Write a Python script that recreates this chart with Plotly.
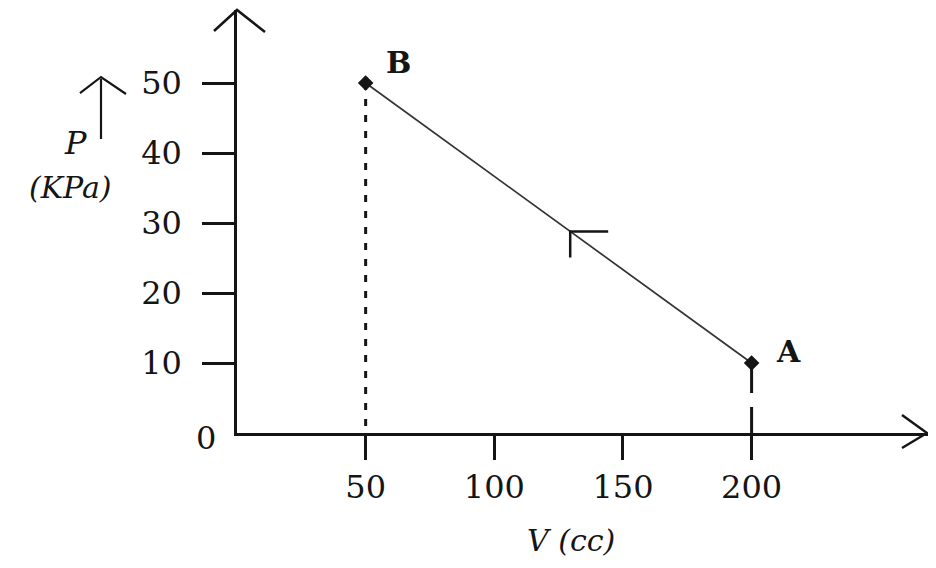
import plotly.graph_objects as go

# -------------------------------
# Datos del proceso A -> B
# -------------------------------
estados = ["B", "A"]
volumen = [50, 200]   # cc
presion = [50, 10]    # kPa

x_ticks = [50, 100, 150, 200]
y_ticks = [10, 20, 30, 40, 50]

# -------------------------------
# Lienzo y escala (la pagina deja 8 px de margen)
# -------------------------------
OFF = 8
W, H = 936 - OFF, 568 - OFF
ML, MR, MT, MB = 237 - OFF, 1, 10 - OFF, 135
PX_X = 2.573   # px por cc
PX_Y = 7.0     # px por kPa
PW, PH = W - ML - MR, H - MT - MB

FUENTE = "DejaVu Serif"
NEGRO = "#151515"


def paper(px, py):
    # pixel de la ventana -> coordenadas paper
    px, py = px - OFF, py - OFF
    return (px - ML) / PW, (H - MB - py) / PH


def trazo(puntos, ancho=2.5):
    partes = []
    for i, (px, py) in enumerate(puntos):
        x, y = paper(px, py)
        partes.append(("M" if i == 0 else "L") + f"{x:.5f},{y:.5f}")
    return dict(type="path", xref="paper", yref="paper", path=" ".join(partes),
                line=dict(color=NEGRO, width=ancho))


def texto(px, py, t, size=32):
    x, y = paper(px, py)
    return dict(x=x, y=y, xref="paper", yref="paper", text=t, showarrow=False,
                xanchor="center", yanchor="middle",
                font=dict(family=FUENTE, size=size, color=NEGRO))


fig = go.Figure()

# linea del proceso
fig.add_trace(go.Scatter(x=volumen, y=presion, mode="lines",
                         line=dict(color="#333333", width=1.7), hoverinfo="skip"))

# proyecciones hacia el eje V
fig.add_trace(go.Scatter(x=[volumen[0], volumen[0]], y=[presion[0], 0], mode="lines",
                         line=dict(color=NEGRO, width=3, dash="7px,9px")))
fig.add_trace(go.Scatter(x=[volumen[1], volumen[1]], y=[presion[1], 0], mode="lines",
                         line=dict(color=NEGRO, width=3, dash="30px,14px")))

# puntos de estado
fig.add_trace(go.Scatter(x=volumen, y=presion, mode="markers",
                         marker=dict(symbol="diamond", size=12, color=NEGRO)))

# flecha de sentido (de A hacia B)
t = 0.47
xc = volumen[1] + t * (volumen[0] - volumen[1])
yc = presion[1] + t * (presion[0] - presion[1])
fig.add_trace(go.Scatter(x=[xc + 38 / PX_X, xc, xc], y=[yc, yc, yc - 26 / PX_Y],
                         mode="lines", line=dict(color=NEGRO, width=2.5)))

eje_comun = dict(showline=True, linewidth=2.5, linecolor=NEGRO, showgrid=False,
                 zeroline=False, ticks="outside", tickwidth=2.5, tickcolor=NEGRO,
                 tickfont=dict(family=FUENTE, size=32, color=NEGRO), fixedrange=True)

fig.update_xaxes(range=[0, PW / PX_X], tickvals=x_ticks, ticklen=24,
                 ticklabelstandoff=0, **eje_comun)
fig.update_yaxes(range=[0, PH / PX_Y], tickvals=y_ticks, ticklen=32,
                 ticklabelstandoff=14, **eje_comun)

formas = [
    trazo([(214, 31), (237, 10), (265, 32)]),          # punta eje P
    trazo([(902, 415), (927, 433), (902, 448)]),       # punta eje V
    trazo([(101, 79), (101, 139)], 2.2),               # flecha de la etiqueta P
    trazo([(80, 93), (101, 77), (126, 94)], 2.2),
]

notas = [
    texto(206, 438, "0"),
    texto(75, 143, "<i>P</i>", 32),
    texto(70, 187, "<i>(KPa)</i>", 30),
    texto(571, 540, "<i>V</i> <i>(cc)</i>", 30),
    texto(398, 63, "<b>B</b>", 30),
    texto(788, 351, "<b>A</b>", 30),
]

fig.update_layout(width=W, height=H, margin=dict(l=ML, r=MR, t=MT, b=MB),
                  plot_bgcolor="white", paper_bgcolor="white", showlegend=False,
                  shapes=formas, annotations=notas)

fig.write_html("out.html")
